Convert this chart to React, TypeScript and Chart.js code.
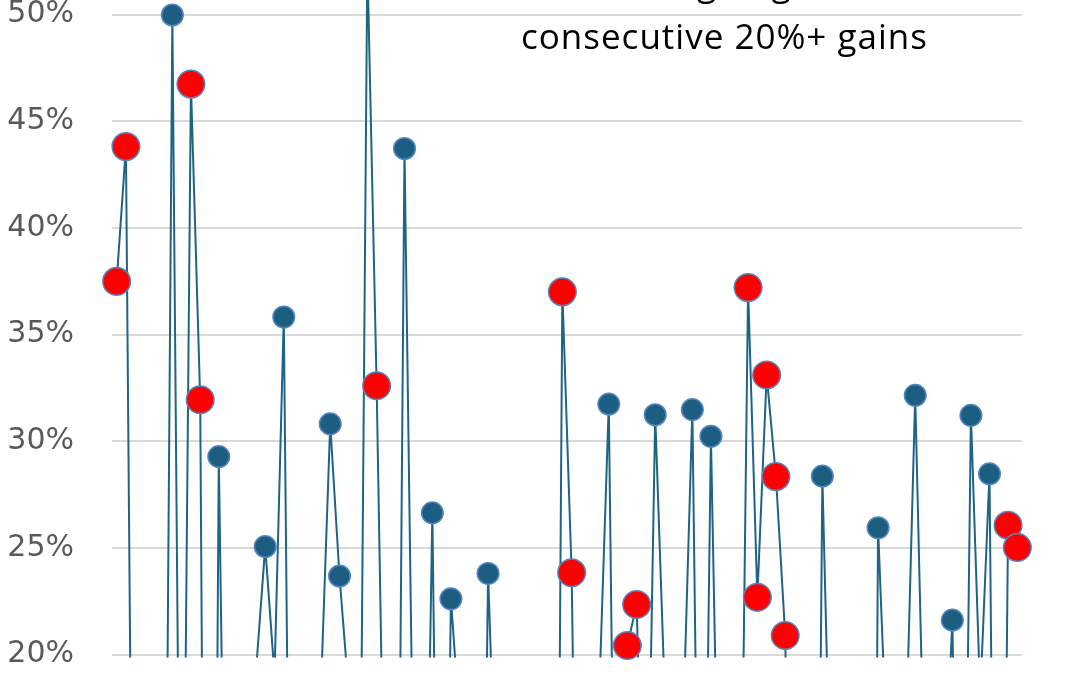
import React, { useEffect, useRef } from "react";
import { Chart, registerables } from "chart.js";

Chart.register(...registerables);

// Calendar years (categories)
const years = [
  1927, 1928, 1929, 1930, 1931, 1932, 1933, 1934, 1935, 1936, 1937, 1938, 1939,
  1940, 1941, 1942, 1943, 1944, 1945, 1946, 1947, 1948, 1949, 1950, 1951, 1952,
  1953, 1954, 1955, 1956, 1957, 1958, 1959, 1960, 1961, 1962, 1963, 1964, 1965,
  1966, 1967, 1968, 1969, 1970, 1971, 1972, 1973, 1974, 1975, 1976, 1977, 1978,
  1979, 1980, 1981, 1982, 1983, 1984, 1985, 1986, 1987, 1988, 1989, 1990, 1991,
  1992, 1993, 1994, 1995, 1996, 1997, 1998, 1999, 2000, 2001, 2002, 2003, 2004,
  2005, 2006, 2007, 2008, 2009, 2010, 2011, 2012, 2013, 2014, 2015, 2016, 2017,
  2018, 2019, 2020, 2021, 2022, 2023, 2024,
];

// Annual total return, %
const annualReturns = [
  37.49, 43.81, -8.3, -25.12, -43.84, -8.64, 49.98, -1.19, 46.74, 31.94, -35.34,
  29.28, -1.1, -10.67, -12.77, 19.17, 25.06, 19.03, 35.82, -8.43, 5.2, 5.7,
  18.3, 30.81, 23.68, 18.15, -1.21, 52.56, 32.6, 7.44, -10.46, 43.72, 12.06,
  0.34, 26.64, -8.81, 22.61, 16.42, 12.4, -9.97, 23.8, 10.81, -8.24, 3.56,
  14.22, 18.76, -14.31, -25.9, 37.0, 23.83, -6.98, 6.51, 18.52, 31.74, -4.7,
  20.42, 22.34, 6.15, 31.24, 18.49, 5.81, 16.54, 31.48, -3.06, 30.23, 7.49,
  9.97, 1.33, 37.2, 22.68, 33.1, 28.34, 20.89, -9.03, -11.85, -21.97, 28.36,
  10.74, 4.83, 15.61, 5.48, -36.55, 25.94, 14.82, 2.1, 15.89, 32.15, 13.52,
  1.38, 11.77, 21.61, -4.23, 31.21, 18.02, 28.47, -18.04, 26.06, 25.02,
];

// Years marked red (part of a run of consecutive 20%+ gains)
const streakYears = [
  1927, 1928, 1935, 1936, 1954, 1955, 1975, 1976, 1982, 1983, 1995, 1996, 1997,
  1998, 1999, 2023, 2024,
];

const threshold = 20;
const yMin = 20;
const yMax = 55;
const yStep = 5;
const titleLines = ["Red dots: ongoing streaks of", "consecutive 20%+ gains"];

const LINE_COLOR = "#1f6386";
const BLUE_FILL = "#1b5e80";
const RED_FILL = "#ff0000";
const MARKER_EDGE = "#5585c4";

// The canvas is taller than the window and shifted up, so that the
// top of the plot (and the first title line) fall outside the view.
const SHIFT = 120;
const CANVAS_W = 1080;
const CANVAS_H = 675 + SHIFT;

export default function App() {
  const canvasRef = useRef<HTMLCanvasElement | null>(null);

  useEffect(() => {
    const canvas = canvasRef.current;
    if (!canvas) return;

    const isStreak = (i: number) => streakYears.includes(years[i]);

    const titlePlugin = {
      id: "titleText",
      afterDraw(chart: any) {
        const ctx = chart.ctx as CanvasRenderingContext2D;
        ctx.save();
        ctx.fillStyle = "#000000";
        ctx.font = "35px 'Open Sans'";
        (ctx as any).letterSpacing = "1px";
        ctx.textBaseline = "alphabetic";
        ctx.textAlign = "center";
        ctx.fillText(titleLines[0], 726, SHIFT - 4);
        ctx.textAlign = "left";
        ctx.fillText(titleLines[1], 521, SHIFT + 48.5);
        ctx.restore();
      },
    };

    const chart = new Chart(canvas, {
      type: "line",
      data: {
        labels: years.map(String),
        datasets: [
          {
            label: "markers",
            data: annualReturns,
            showLine: false,
            order: 0,
            clip: false as any,
            pointRadius: (c: any) => {
              const v = c.raw as number;
              if (v < threshold) return 0;
              return isStreak(c.dataIndex) ? 13.8 : 10.8;
            },
            pointHoverRadius: 0,
            pointBackgroundColor: (c: any) =>
              isStreak(c.dataIndex) ? RED_FILL : BLUE_FILL,
            pointBorderColor: MARKER_EDGE,
            pointBorderWidth: 1.5,
          },
          {
            label: "returns",
            data: annualReturns,
            order: 1,
            borderColor: LINE_COLOR,
            borderWidth: 2,
            pointRadius: 0,
            tension: 0,
            fill: false,
            clip: { left: false, right: false, top: false, bottom: 3 } as any,
          },
        ],
      },
      options: {
        responsive: false,
        animation: false,
        events: [],
        layout: { padding: { left: 0, right: 58, top: 27.9, bottom: 20.5 } },
        plugins: {
          legend: { display: false },
          tooltip: { enabled: false },
          title: { display: false },
        },
        scales: {
          x: {
            type: "category",
            offset: true,
            display: false,
          },
          y: {
            min: yMin,
            max: yMax,
            border: { display: false },
            grid: {
              color: "#d9d9d9",
              lineWidth: 2,
              drawTicks: true,
              tickLength: 38,
              tickColor: "rgba(0,0,0,0)",
            },
            ticks: {
              stepSize: yStep,
              padding: 0,
              color: "#595959",
              font: { family: "'DejaVu Sans'", size: 30 },
              callback: (v: any) => `${v}%`,
            },
            afterFit: (s: any) => {
              s.width = 112;
            },
          },
        },
      },
      plugins: [titlePlugin],
    });

    return () => chart.destroy();
  }, []);

  return (
    <div
      style={{
        position: "fixed",
        left: 0,
        top: -SHIFT,
        width: CANVAS_W,
        height: CANVAS_H,
        background: "#ffffff",
      }}
    >
      <canvas
        ref={canvasRef}
        width={CANVAS_W}
        height={CANVAS_H}
        style={{ display: "block", width: CANVAS_W, height: CANVAS_H }}
      />
    </div>
  );
}
